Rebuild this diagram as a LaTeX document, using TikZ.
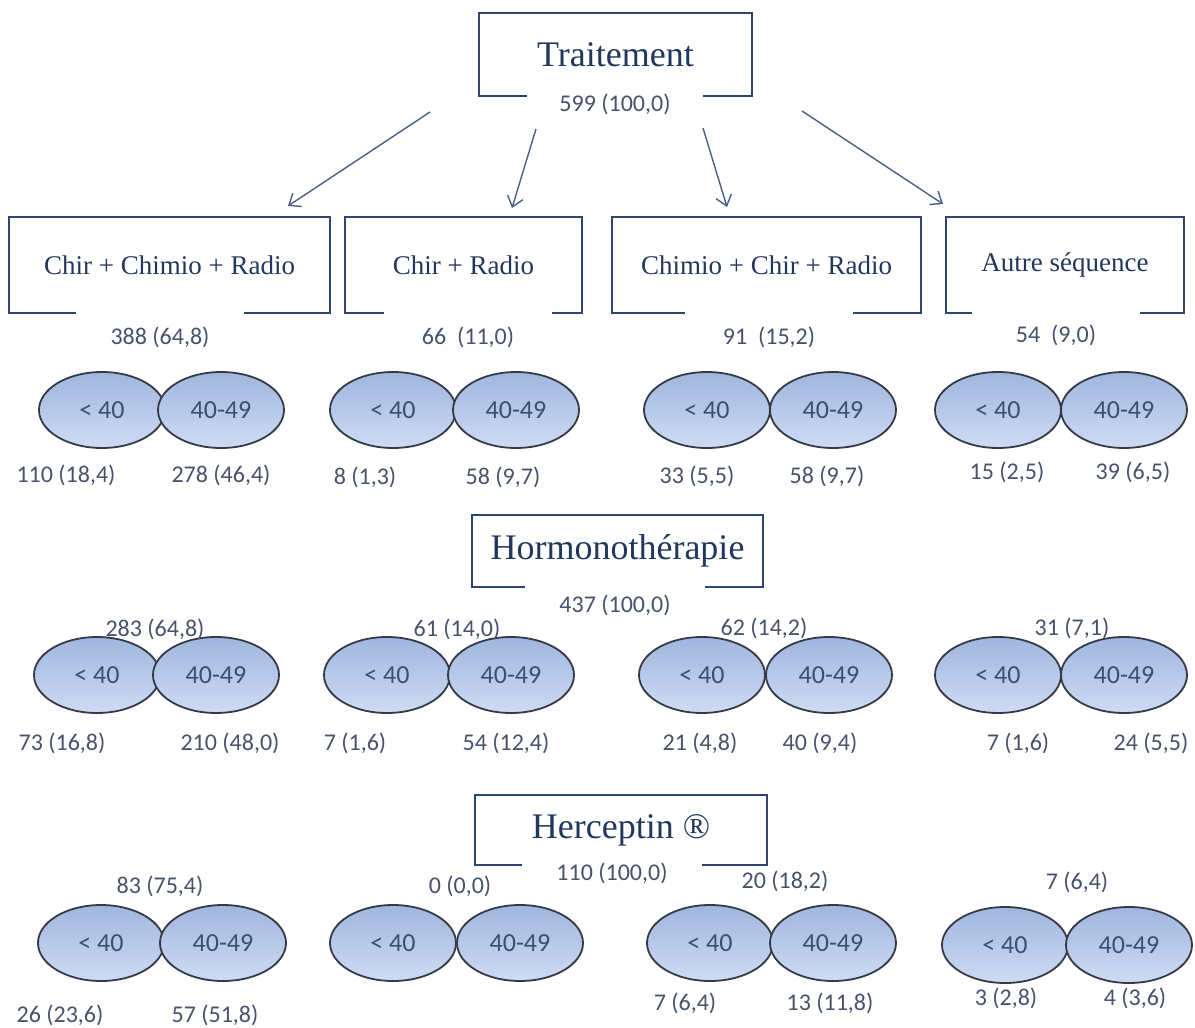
\documentclass[tikz,border=0pt]{standalone}
\usepackage{fontspec}
\setmainfont{Liberation Serif}
\newfontfamily\numfont{Carlito}
\usetikzlibrary{shapes.geometric,arrows.meta}
\definecolor{boxcol}{RGB}{45,70,112}
\definecolor{titlecol}{RGB}{33,55,92}
\definecolor{numcol}{RGB}{72,82,108}
\definecolor{agetext}{RGB}{62,78,112}
\definecolor{edgecol}{RGB}{52,58,70}
\definecolor{ellTop}{RGB}{160,182,222}
\definecolor{ellBot}{RGB}{206,219,244}
\definecolor{arrowcol}{RGB}{72,96,136}
\begin{document}
\begin{tikzpicture}[x=0.5pt,y=-0.5pt,
    catbox/.style={draw=boxcol,line width=1.3pt,minimum height=48pt,inner sep=0pt,
      text=titlecol,font=\fontsize{13.5}{16}\selectfont},
    mainbox/.style={catbox,font=\fontsize{18}{21}\selectfont},
    countbox/.style={fill=white,inner sep=0pt,minimum width=84pt,minimum height=28pt,
      text=numcol,font=\numfont\fontsize{12}{14}\selectfont},
    countlbl/.style={inner sep=0pt,text=numcol,font=\numfont\fontsize{12}{14}\selectfont},
    agecell/.style={ellipse,draw=edgecol,line width=0.9pt,minimum width=63pt,
      minimum height=38pt,inner sep=0pt,top color=ellTop,bottom color=ellBot,
      text=agetext,font=\numfont\fontsize{13}{15}\selectfont},
    fanarrow/.style={draw=arrowcol,line width=0.7pt,-{Straight Barb[length=5pt,width=8pt]}}]
  \useasboundingbox (0,0) rectangle (1195,1028);
  \def\agepair#1#2#3#4{%
    \node[agecell] (#1y) at (#2,#4) {< 40};
    \node[agecell] (#1o) at (#3,#4) {40-49};}

  % Traitement
  \node[mainbox,minimum width=136.5pt,minimum height=41.5pt] (trait) at (615.5,54.5) {Traitement};
  \node[countbox,minimum width=88pt,minimum height=16pt] (traitN) at (615,104) {599 (100,0)};

  \node[catbox,minimum width=160.5pt] (seq1) at (169.5,265) {Chir + Chimio + Radio};
  \node[catbox,minimum width=118.5pt] (seq2) at (463.5,265) {Chir + Radio};
  \node[catbox,minimum width=154.5pt] (seq3) at (766.5,265) {Chimio + Chir + Radio};
  \node[catbox,minimum width=119pt] (seq4) at (1065,265) {Autre séquence};
  \node[countbox] (seq1N) at (160,337) {388 (64,8)};
  \node[countbox] (seq2N) at (468,337) {66\ \ (11,0)};
  \node[countbox] (seq3N) at (769,337) {91\ \ (15,2)};
  \node[countbox] (seq4N) at (1056,335) {54\ \ (9,0)};

  \coordinate (fan1a) at (430,112); \coordinate (fan1b) at (288,206);
  \coordinate (fan2a) at (536,129); \coordinate (fan2b) at (512,208);
  \coordinate (fan3a) at (703,128); \coordinate (fan3b) at (727,207);
  \coordinate (fan4a) at (802,111); \coordinate (fan4b) at (943,204);
  \foreach \i in {1,...,4}
    \draw[fanarrow] (fan\i a) -- (fan\i b);

  \agepair{t1}{102}{221}{410}
  \agepair{t2}{393}{516}{410}
  \agepair{t3}{707}{833}{410}
  \agepair{t4}{998}{1124}{410}
  \node[countlbl] (t1yN) at (66,475) {110 (18,4)};
  \node[countlbl] (t1oN) at (221,475) {278 (46,4)};
  \node[countlbl] (t2yN) at (365,477) {8 (1,3)};
  \node[countlbl] (t2oN) at (503,477) {58 (9,7)};
  \node[countlbl] (t3yN) at (697,476) {33 (5,5)};
  \node[countlbl] (t3oN) at (827,476) {58 (9,7)};
  \node[countlbl] (t4yN) at (1007,472) {15 (2,5)};
  \node[countlbl] (t4oN) at (1133,472) {39 (6,5)};

  % Hormonotherapie
  \node[mainbox,minimum width=145.5pt,minimum height=36pt] (horm) at (617.5,551) {Hormonothérapie};
  \node[countbox,minimum width=90pt,minimum height=24pt] (hormN) at (615,605) {437 (100,0)};

  \agepair{h1}{97}{216}{675}
  \agepair{h2}{387}{511}{675}
  \agepair{h3}{702}{829}{675}
  \agepair{h4}{998}{1124}{675}
  \node[countlbl] (h1N) at (155,629) {283 (64,8)};
  \node[countlbl] (h2N) at (457,629) {61 (14,0)};
  \node[countlbl] (h3N) at (764,628) {62 (14,2)};
  \node[countlbl] (h4N) at (1072,628) {31 (7,1)};
  \node[countlbl] (h1yN) at (62,743) {73 (16,8)};
  \node[countlbl] (h1oN) at (230,743) {210 (48,0)};
  \node[countlbl] (h2yN) at (355,743) {7 (1,6)};
  \node[countlbl] (h2oN) at (506,743) {54 (12,4)};
  \node[countlbl] (h3yN) at (700,743) {21 (4,8)};
  \node[countlbl] (h3oN) at (820,743) {40 (9,4)};
  \node[countlbl] (h4yN) at (1018,743) {7 (1,6)};
  \node[countlbl] (h4oN) at (1151,743) {24 (5,5)};

  % Herceptin
  \node[mainbox,minimum width=146pt,minimum height=35pt] (herc) at (621,830) {Herceptin ®};
  \node[countbox,minimum width=90pt,minimum height=18pt] (hercN) at (612,873) {110 (100,0)};

  \agepair{c1}{101}{223}{943}
  \agepair{c2}{393}{520}{943}
  \agepair{c3}{710}{833}{943}
  \agepair{c4}{1005}{1129}{945}
  \node[countlbl] (c1N) at (160,886) {83 (75,4)};
  \node[countlbl] (c2N) at (460,886) {0 (0,0)};
  \node[countlbl] (c3N) at (785,881) {20 (18,2)};
  \node[countlbl] (c4N) at (1077,882) {7 (6,4)};
  \node[countlbl] (c1yN) at (60,1015) {26 (23,6)};
  \node[countlbl] (c1oN) at (215,1015) {57 (51,8)};
  \node[countlbl] (c3yN) at (685,1003) {7 (6,4)};
  \node[countlbl] (c3oN) at (830,1003) {13 (11,8)};
  \node[countlbl] (c4yN) at (1006,998) {3 (2,8)};
  \node[countlbl] (c4oN) at (1135,998) {4 (3,6)};
\end{tikzpicture}
\end{document}
